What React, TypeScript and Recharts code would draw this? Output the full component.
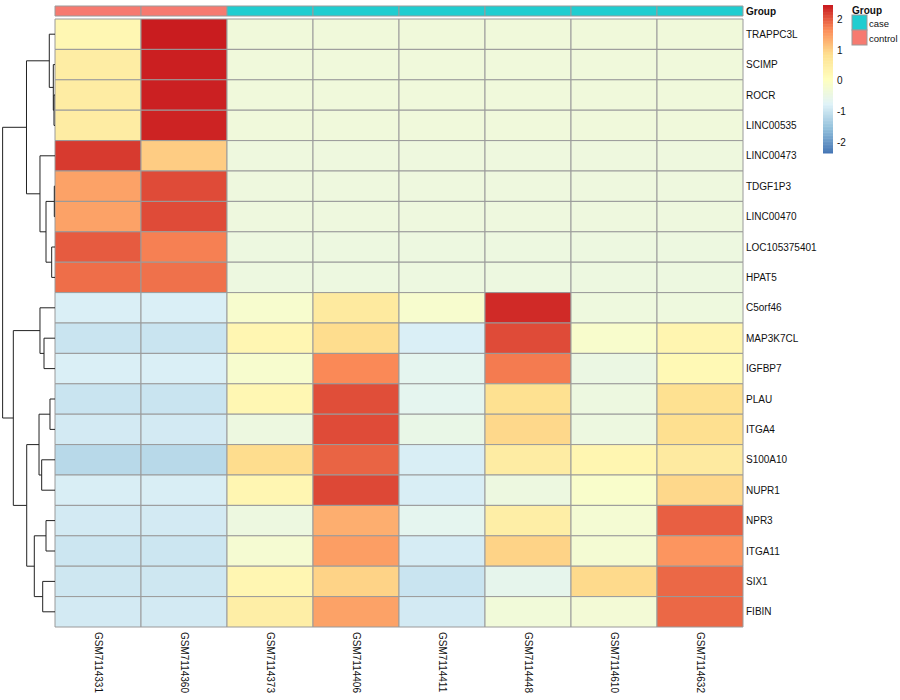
import { BarChart, Bar, Cell, XAxis, YAxis, ScatterChart, Scatter } from 'recharts'

const FONT = '"Liberation Sans", Arial, sans-serif'

const SAMPLES = [
  'GSM7114331', 'GSM7114360', 'GSM7114373', 'GSM7114406',
  'GSM7114411', 'GSM7114448', 'GSM7114610', 'GSM7114632',
]
const GROUPS = ['control', 'control', 'case', 'case', 'case', 'case', 'case', 'case']

const GENES = [
  'TRAPPC3L', 'SCIMP', 'ROCR', 'LINC00535', 'LINC00473', 'TDGF1P3', 'LINC00470',
  'LOC105375401', 'HPAT5', 'C5orf46', 'MAP3K7CL', 'IGFBP7', 'PLAU', 'ITGA4',
  'S100A10', 'NUPR1', 'NPR3', 'ITGA11', 'SIX1', 'FIBIN',
]

// row-scaled expression, one row per gene, columns in SAMPLES order
const VALUES = [
  [0.27, 2.47, -0.32, -0.32, -0.32, -0.32, -0.32, -0.32],
  [0.53, 2.45, -0.33, -0.33, -0.33, -0.33, -0.33, -0.33],
  [0.55, 2.44, -0.33, -0.33, -0.33, -0.33, -0.33, -0.33],
  [0.55, 2.42, -0.33, -0.33, -0.33, -0.33, -0.33, -0.33],
  [2.26, 1.07, -0.38, -0.38, -0.38, -0.38, -0.38, -0.38],
  [1.48, 2.14, -0.38, -0.38, -0.38, -0.38, -0.38, -0.38],
  [1.48, 2.14, -0.38, -0.38, -0.38, -0.38, -0.38, -0.38],
  [2.03, 1.77, -0.4, -0.4, -0.4, -0.4, -0.4, -0.4],
  [1.9, 1.88, -0.4, -0.4, -0.4, -0.4, -0.4, -0.4],
  [-0.8, -0.8, -0.15, 0.61, -0.15, 2.37, -0.37, -0.37],
  [-0.98, -0.98, 0.29, 0.9, -0.8, 2.14, -0.12, 0.32],
  [-0.8, -0.8, -0.15, 1.71, -0.62, 1.81, -0.45, 0.23],
  [-0.98, -0.98, 0.27, 2.12, -0.62, 0.85, -0.4, 0.85],
  [-0.88, -0.88, -0.4, 2.14, -0.5, 0.95, -0.4, 0.87],
  [-1.15, -1.15, 0.9, 1.97, -0.82, 0.55, 0.3, 0.6],
  [-0.82, -0.82, 0.29, 2.16, -0.82, -0.41, -0.1, 0.95],
  [-0.88, -0.88, -0.4, 1.36, -0.62, 0.5, -0.22, 2.0],
  [-0.95, -0.95, -0.2, 1.52, -0.85, 1.0, -0.22, 1.6],
  [-0.93, -0.93, 0.29, 1.0, -0.98, -0.58, 0.93, 1.94],
  [-0.88, -0.88, 0.5, 1.48, -0.88, -0.3, -0.26, 1.94],
]

// row dendrogram: [left, right, height]; 0..19 = gene row, 100 + k = merge k
const MERGES: [number, number, number][] = [
  [2, 3, 0.23],
  [1, 100, 0.39],
  [0, 101, 1.31],
  [5, 6, 0.16],
  [7, 8, 0.76],
  [103, 104, 2.06],
  [4, 105, 3.44],
  [102, 106, 6.53],
  [10, 11, 2.52],
  [9, 108, 3.44],
  [12, 13, 1.15],
  [14, 15, 3.05],
  [110, 111, 3.66],
  [16, 17, 2.06],
  [18, 19, 2.82],
  [113, 114, 4.74],
  [112, 115, 6.48],
  [109, 116, 9.55],
  [107, 117, 12.0],
]
const TREE_MAX = 12.6

const PALETTE = ['#4575B4', '#91BFDB', '#E0F3F8', '#FFFFBF', '#FEE090', '#FC8D59', '#C8191E']
const LO = -2.36
const HI = 2.49
const LEGEND_TICKS = [2, 1, 0, -1, -2]
const GROUP_COLORS: Record<string, string> = { case: '#20CDD0', control: '#F67A70' }
const LEGEND_GROUPS = ['case', 'control']

function rgb(h: string) {
  return [1, 3, 5].map(i => parseInt(h.slice(i, i + 2), 16))
}

function colorFor(v: number) {
  const t = Math.min(1, Math.max(0, (v - LO) / (HI - LO)))
  const pos = t * (PALETTE.length - 1)
  const i = Math.min(PALETTE.length - 2, Math.floor(pos))
  const f = pos - i
  const a = rgb(PALETTE[i]), b = rgb(PALETTE[i + 1])
  const c = a.map((x, k) => Math.round(x + (b[k] - x) * f))
  return `rgb(${c[0]},${c[1]},${c[2]})`
}

const heatData = SAMPLES.map(s => {
  const row: Record<string, any> = { name: s }
  GENES.forEach((_, r) => { row['r' + r] = 1 })
  return row
})
const annoData = SAMPLES.map(s => ({ name: s, one: 1 }))

// dendrogram elbows
const nodeY: number[] = []
const posOf = (id: number) =>
  id >= 100 ? { y: nodeY[id - 100], h: MERGES[id - 100][2] } : { y: id + 0.5, h: 0 }
const elbows = MERGES.map(([a, b, h], k) => {
  const pa = posOf(a), pb = posOf(b)
  nodeY[k] = (pa.y + pb.y) / 2
  return [
    { x: pa.h, y: pa.y }, { x: h, y: pa.y },
    { x: h, y: pb.y }, { x: pb.h, y: pb.y },
  ]
})

function ColTick(props: any) {
  const { x, y, payload } = props
  return (
    <text x={x} y={y} transform={`rotate(90 ${x} ${y})`} textAnchor="start" dominantBaseline="central"
      fontSize={10} fill="#111" fontFamily={FONT}>
      {payload.value}
    </text>
  )
}

function ColorLegend() {
  const top = 5, h = 148, x = 823, w = 10
  const yOf = (v: number) => top + ((HI - v) / (HI - LO)) * h
  const n = 100
  const step = (HI - LO) / n
  return (
    <svg width={900} height={160} style={{ position: 'absolute', left: 0, top: 0 }} fontFamily={FONT}>
      {Array.from({ length: n }, (_, k) => {
        const v0 = LO + k * step
        return <rect key={k} x={x} y={yOf(v0 + step)} width={w} height={yOf(v0) - yOf(v0 + step) + 0.5}
          fill={colorFor(v0 + step / 2)} />
      })}
      {LEGEND_TICKS.map(t => (
        <text key={t} x={837} y={yOf(t)} dominantBaseline="central" fontSize={10} fill="#111">{t}</text>
      ))}
      <text x={852} y={10} dominantBaseline="central" fontSize={10} fontWeight="bold" fill="#111">Group</text>
      {LEGEND_GROUPS.map((g, i) => (
        <g key={g}>
          <rect x={852} y={15 + i * 15} width={15} height={15} fill={GROUP_COLORS[g]} stroke="#9a9a9a" />
          <text x={869} y={23 + i * 15} dominantBaseline="central" fontSize={9.5} fill="#111">{g}</text>
        </g>
      ))}
    </svg>
  )
}

export default function App() {
  return (
    <div style={{ position: 'absolute', left: 0, top: 0, width: 900, height: 700, background: '#fff' }}>
      <BarChart width={900} height={700} data={heatData} barCategoryGap={0}
        margin={{ top: 19, right: 67, bottom: 13, left: 55 }} style={{ position: 'absolute', left: 0, top: 0 }}>
        <XAxis dataKey="name" height={60} axisLine={false} tickLine={false} tickSize={0} tickMargin={5}
          interval={0} tick={(p: any) => <ColTick {...p} />} />
        <YAxis orientation="right" type="number" domain={[0, GENES.length]} reversed width={90}
          ticks={GENES.map((_, i) => i + 0.5)} tickFormatter={(v: number) => GENES[Math.floor(v)]}
          interval={0} axisLine={false} tickLine={false} tickSize={0} tickMargin={3}
          tick={{ fontSize: 10, fill: '#111', fontFamily: FONT }} />
        {GENES.map((g, r) => (
          <Bar key={g} dataKey={'r' + r} stackId="h" isAnimationActive={false}>
            {SAMPLES.map((s, c) => (
              <Cell key={s} fill={colorFor(VALUES[r][c])} stroke="#9a9a9a" strokeWidth={1} />
            ))}
          </Bar>
        ))}
      </BarChart>

      <BarChart width={900} height={20} data={annoData} barCategoryGap={0}
        margin={{ top: 6, right: 67, bottom: 4, left: 55 }} style={{ position: 'absolute', left: 0, top: 0 }}>
        <XAxis dataKey="name" hide />
        <YAxis orientation="right" type="number" domain={[0, 1]} width={90} ticks={[0.5]}
          tickFormatter={() => 'Group'} axisLine={false} tickLine={false} tickSize={0} tickMargin={3}
          tick={{ fontSize: 10, fill: '#111', fontWeight: 'bold', fontFamily: FONT }} />
        <Bar dataKey="one" isAnimationActive={false}>
          {GROUPS.map((g, c) => <Cell key={c} fill={GROUP_COLORS[g]} stroke="#9a9a9a" strokeWidth={1} />)}
        </Bar>
      </BarChart>

      <ScatterChart width={56} height={700} margin={{ top: 19, right: 1, bottom: 73, left: 0 }}
        style={{ position: 'absolute', left: 0, top: 0 }}>
        <XAxis type="number" dataKey="x" domain={[0, TREE_MAX]} reversed hide />
        <YAxis type="number" dataKey="y" domain={[0, GENES.length]} reversed hide />
        {elbows.map((pts, k) => (
          <Scatter key={k} data={pts} line={{ stroke: '#222', strokeWidth: 1 }} lineType="joint"
            shape={() => <g />} isAnimationActive={false} />
        ))}
      </ScatterChart>

      <ColorLegend />
    </div>
  )
}
